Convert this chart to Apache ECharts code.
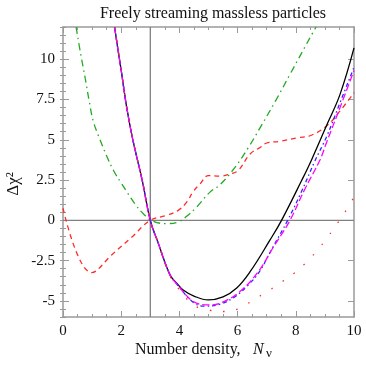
<!DOCTYPE html>
<html>
<head>
<meta charset="utf-8">
<script src="https://cdn.jsdelivr.net/npm/echarts@6/dist/echarts.min.js"></script>
<style>
html, body { margin: 0; padding: 0; background: #fff; }
#main { width: 366px; height: 366px; }
</style>
</head>
<body>
<div id="main"></div>
<script>
// values (x = N_nu, y = delta chi^2)
const blackX = [1.77, 2.02, 2.19, 2.4, 2.72, 3.0, 3.27, 3.68, 3.91, 4.13, 4.5, 4.99, 5.5, 5.97, 6.43, 7.11, 7.51, 8.2, 8.54, 9.06, 9.52, 10];
const blackY = [12, 9.06, 7.0, 5.0, 2.5, 0, -1.4, -3.4, -3.9, -4.32, -4.7, -4.94, -4.75, -4.2, -3.19, -1.23, 0, 2.47, 3.75, 5.9, 7.82, 10.7];

const blueX = [1.77, 2.02, 2.19, 2.4, 2.72, 3.0, 3.27, 3.68, 3.91, 4.48, 4.85, 5.4, 5.9, 6.37, 6.75, 7.2, 7.72, 8.2, 8.66, 9.06, 9.52, 10];
const blueY = [12, 9.06, 7.0, 5.0, 2.5, 0, -1.4, -3.4, -3.95, -5.1, -5.33, -5.2, -4.75, -4.0, -3.19, -1.7, 0, 1.8, 3.7, 5.2, 7.3, 9.5];

const magentaX = [1.77, 2.02, 2.19, 2.4, 2.72, 3.0, 3.27, 3.68, 3.91, 4.48, 4.99, 5.4, 6.08, 6.71, 7.2, 7.8, 8.3, 8.83, 9.06, 9.52, 10];
const magentaY = [12, 9.06, 7.0, 5.0, 2.5, 0, -1.4, -3.4, -3.95, -5.04, -5.25, -5.14, -4.42, -3.19, -1.75, 0, 1.9, 3.75, 4.85, 7.0, 9.3];

const redDotX = [1.77, 2.02, 2.19, 2.4, 2.72, 3.0, 3.27, 3.68, 3.91, 4.48, 4.99, 5.57, 6.08, 6.54, 7.02, 7.48, 7.94, 8.35, 8.72, 9.06, 9.38, 9.69, 10];
const redDotY = [12, 9.06, 7.0, 5.0, 2.5, 0, -1.4, -3.45, -4.1, -5.25, -5.56, -5.66, -5.45, -4.94, -4.42, -3.87, -3.29, -2.63, -1.9, -1.13, -0.31, 0.51, 1.45];

const greenX = [0.45, 0.61, 0.76, 0.9, 1.04, 1.24, 1.5, 1.75, 2.02, 2.47, 2.76, 3.1, 3.56, 3.96, 4.25, 4.59, 5.05, 5.4, 5.91, 6.37, 6.79, 7.3, 7.8, 8.6, 8.7];
const greenY = [12, 10.3, 8.85, 7.4, 6.15, 5.15, 4.0, 3.05, 2.26, 1.03, 0.41, -0.06, -0.2, -0.1, 0.25, 0.82, 1.75, 2.22, 3.29, 4.52, 5.8, 7.4, 9.06, 11.7, 12];

const redDashX = [0, 0.99, 1.7, 2.36, 3.0, 3.56, 3.96, 4.25, 4.48, 4.71, 5.0, 5.4, 5.74, 6.02, 6.43, 6.77, 7.0, 7.46, 8.09, 8.49, 9.06, 9.52, 10];
const redDashY = [0.75, -3.25, -2.1, -1.05, 0, 0.31, 0.62, 1.13, 1.8, 2.26, 2.78, 2.74, 2.88, 3.09, 4.12, 4.52, 4.8, 4.9, 5.14, 5.25, 5.86, 6.79, 7.92];

const yMajor = [-5, -2.5, 0, 2.5, 5, 7.5, 10];

function pts(xs, ys) {
    return xs.map((x, i) => [x, ys[i]]);
}

const serif = 'Liberation Serif';
const frame = '#9a9a9a';

// tick labels through rich text so the serif face is surely used
const tickRich = { t: { fontFamily: serif, fontSize: 15, color: '#111' } };

function curve(name, xs, ys, color, type) {
    return {
        name: name,
        type: 'line',
        data: pts(xs, ys),
        showSymbol: false,
        smooth: 0.4,
        clip: true,
        lineStyle: { color: color, width: 1.3, type: type },
        silent: true
    };
}

function xAx(pos, labels) {
    return {
        type: 'value', position: pos, min: 0, max: 10, interval: 2,
        axisLine: { show: true, onZero: false, lineStyle: { color: frame, width: 1.5 } },
        axisTick: { show: true, inside: true, length: 6, lineStyle: { color: frame } },
        minorTick: { show: true, splitNumber: 4, length: 3, lineStyle: { color: frame } },
        axisLabel: {
            show: labels, margin: 7, fontFamily: serif, fontSize: 15,
            formatter: v => '{t|' + v + '}', rich: tickRich
        },
        splitLine: { show: false }
    };
}

function yMaj(pos, labels) {
    return {
        type: 'value', position: pos, min: -6, max: 12,
        axisLine: { show: true, onZero: false, lineStyle: { color: frame, width: 1.5 } },
        axisTick: { show: true, inside: true, length: 6, customValues: yMajor, lineStyle: { color: frame } },
        axisLabel: {
            show: labels, customValues: yMajor, margin: 8, fontFamily: serif, fontSize: 15,
            formatter: v => '{t|' + v + '}', rich: tickRich
        },
        splitLine: { show: false }
    };
}

function yMin(pos) {
    return {
        type: 'value', position: pos, min: -6, max: 12, interval: 0.5,
        axisLine: { show: false },
        axisTick: { show: true, inside: true, length: 3, lineStyle: { color: frame } },
        axisLabel: { show: false },
        splitLine: { show: false }
    };
}

const chart = echarts.init(document.getElementById('main'));

const option = {
    animation: false,
    backgroundColor: '#fff',
    textStyle: { fontFamily: serif },
    title: {
        text: 'Freely streaming massless particles',
        left: 208, top: 1, textAlign: 'center',
        textStyle: { fontFamily: serif, fontSize: 16, fontWeight: 'normal', color: '#111' }
    },
    grid: { left: 63, right: 12, top: 27, bottom: 49 },
    xAxis: [xAx('bottom', true), xAx('top', false)],
    yAxis: [yMaj('left', true), yMin('left'), yMaj('right', false), yMin('right')],
    graphic: [
        {
            type: 'text', x: 14, y: 184, rotation: Math.PI / 2,
            style: { text: 'Δχ²', fontFamily: serif, fontSize: 17, fill: '#111', align: 'center', verticalAlign: 'middle' }
        },
        {
            type: 'text', x: 135, y: 350,
            style: { text: 'Number density,', fontFamily: serif, fontSize: 16, fill: '#111', verticalAlign: 'middle' }
        },
        {
            type: 'text', x: 253, y: 350,
            style: { text: 'N', fontFamily: serif, fontStyle: 'italic', fontSize: 16, fill: '#111', verticalAlign: 'middle' }
        },
        {
            type: 'text', x: 266, y: 354,
            style: { text: 'ν', fontFamily: serif, fontSize: 13, fill: '#111', verticalAlign: 'middle' }
        }
    ],
    series: [
        {
            type: 'line', data: [[0, 0], [10, 0]], showSymbol: false, silent: true,
            lineStyle: { color: '#808080', width: 1.3 }
        },
        {
            type: 'line', data: [[3, -6], [3, 12]], showSymbol: false, silent: true,
            lineStyle: { color: '#808080', width: 1.3 }
        },
        curve('red dashed', redDashX, redDashY, '#ff2a2a', [5, 4]),
        curve('green', greenX, greenY, '#22aa22', [7, 4, 1.5, 4]),
        curve('black', blackX, blackY, '#000000', 'solid'),
        curve('blue', blueX, blueY, '#2a2aff', [4, 3, 1.5, 3]),
        curve('magenta', magentaX, magentaY, '#ff00ff', [7, 3]),
        curve('red dotted', redDotX, redDotY, '#ff2a2a', [1.5, 12])
    ]
};

chart.setOption(option);
</script>
</body>
</html>
